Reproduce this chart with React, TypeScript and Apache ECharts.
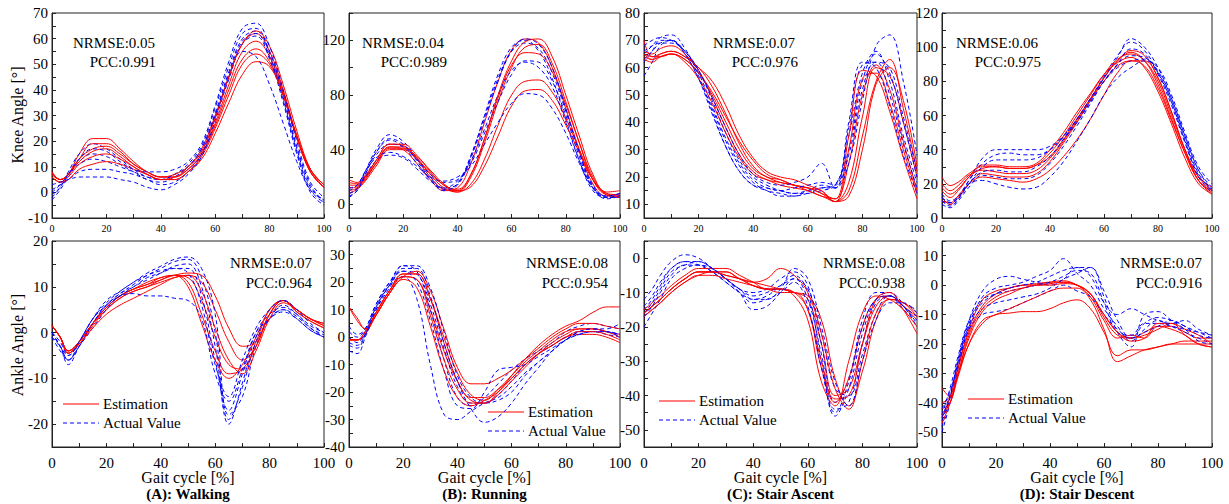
import React, { useEffect, useRef } from "react";
import * as echarts from "echarts";

// shared gait-cycle sample positions (%)
const X = [0, 3, 6, 10, 15, 20, 25, 30, 35, 40, 45, 50, 55, 60, 65, 70, 75, 80, 85, 90, 95, 100];
const X_TICKS = [0, 10, 20, 30, 40, 50, 60, 70, 80, 90, 100];
const X_LABELS = [0, 20, 40, 60, 80, 100];

// ---------- (A) Walking ----------
const A_KNEE_EST = [
  [8, 5, 7, 15, 21, 21, 17, 12, 8, 6, 6, 10, 17, 30, 45, 58, 62, 55, 40, 22, 8, 2],
  [7, 5, 7, 13, 19, 19, 16, 11, 8, 6, 6, 9, 15, 27, 42, 55, 59, 53, 39, 22, 8, 2],
  [7, 5, 7, 12, 16, 17, 14, 10, 7, 5, 6, 9, 15, 26, 40, 52, 56, 51, 38, 21, 8, 2],
  [6, 4, 6, 11, 14, 15, 13, 10, 7, 5, 5, 8, 14, 25, 38, 50, 54, 50, 38, 22, 9, 3],
  [6, 4, 5, 9, 11, 12, 11, 9, 7, 5, 5, 8, 13, 23, 35, 46, 51, 49, 38, 22, 9, 3],
  [8, 5, 7, 13, 17, 18, 15, 11, 8, 6, 7, 10, 16, 29, 45, 58, 63, 57, 42, 24, 9, 2],
];
const A_KNEE_ACT = [
  [-2, 2, 8, 15, 19, 17, 13, 9, 6, 5, 7, 11, 18, 33, 49, 62, 64, 54, 37, 17, 2, -3],
  [-3, 1, 6, 12, 15, 14, 11, 8, 5, 4, 6, 10, 17, 31, 47, 60, 63, 55, 38, 18, 3, -4],
  [0, 3, 7, 11, 13, 12, 10, 8, 6, 5, 7, 10, 16, 30, 46, 59, 62, 53, 36, 16, 1, -4],
  [1, 3, 5, 8, 9, 9, 8, 7, 5, 3, 4, 8, 15, 29, 45, 58, 61, 52, 35, 15, 0, -5],
  [3, 4, 5, 6, 6, 6, 5, 4, 2, 1, 3, 7, 14, 28, 44, 55, 53, 42, 27, 12, 1, -3],
  [-1, 2, 7, 13, 17, 16, 12, 9, 8, 8, 9, 12, 19, 34, 51, 64, 66, 57, 40, 20, 4, -2],
];
const A_ANKLE_EST = [
  [1.5, -1, -4, -2, 2, 5.5, 8, 9.5, 10.5, 11.5, 12.5, 12, 7, -1, -7, -8, -2, 5, 7, 4.5, 2.5, 1],
  [1.5, -1, -4.5, -2.5, 1.5, 5, 7.5, 9, 10, 11, 12, 12.5, 11, 5, -2, -6, -3, 4, 7, 4.5, 2.5, 1],
  [1.5, -1, -4, -2, 2, 5.5, 8, 9.5, 10.5, 12, 12.5, 11, 4, -4, -9, -8, -3, 4, 7, 5, 3, 1.5],
  [1.5, -1, -4.5, -2, 2, 5.5, 8, 9.5, 11, 12, 12.5, 10, 2, -6, -10, -7, -1, 5, 7, 5, 3, 2],
  [1.5, -1, -4, -2, 2, 5, 7.5, 9, 10, 11.5, 12.5, 13, 12.5, 8, 1, -3, -2, 4, 7, 5, 3, 2],
  [1.5, -1, -4.5, -2.5, 1, 4, 6, 7.5, 9, 10.5, 12, 12.5, 9, 1, -6, -9, -4, 3, 6.5, 5, 3, 1.5],
];
const A_ANKLE_ACT = [
  [0, -3, -7, -3, 2, 6, 8.5, 10.5, 12.5, 14, 15.5, 16, 12, 0, -19, -12, -2, 3, 6, 4, 1, -1],
  [-1, -4, -6, -2, 3, 6.5, 9, 11, 13, 14.5, 16, 16.5, 14, 4, -18, -14, -3, 3, 5, 3.5, 1, -0.5],
  [0, -3, -5, -2, 3, 6, 8.5, 10, 12, 13, 14, 14, 8, -6, -17, -9, 0, 4, 5.5, 4, 1.5, 0],
  [-1, -3, -6, -3, 2, 6, 8, 10, 11.5, 13, 14.5, 15, 10, -3, -20, -11, -1, 3, 4.5, 3, 0.5, -1],
  [0, -3, -6, -3, 1, 5, 8, 8.5, 8, 8, 7.5, 7, 3, -9, -15, -8, 0, 3, 5, 3, 0.5, -1],
  [0, -2, -5, -2, 3, 7, 9, 11, 12.5, 13.5, 14, 13, 6, -7, -14, -6, 1, 5, 7, 5, 2, 0],
];

// ---------- (B) Running ----------
const B_KNEE_EST = [
  [18, 16, 20, 30, 42, 40, 30, 18, 10, 12, 30, 60, 90, 113, 121, 118, 100, 70, 40, 15, 6, 8],
  [10, 12, 18, 30, 42, 42, 34, 22, 12, 9, 20, 45, 75, 100, 115, 117, 103, 75, 45, 18, 7, 6],
  [14, 14, 20, 32, 44, 43, 33, 20, 11, 10, 22, 48, 78, 102, 111, 110, 97, 73, 45, 20, 8, 7],
  [8, 11, 17, 28, 40, 40, 33, 23, 14, 9, 15, 33, 58, 80, 90, 91, 82, 63, 40, 18, 7, 5],
  [12, 13, 19, 30, 41, 41, 35, 25, 15, 10, 13, 28, 50, 72, 83, 84, 76, 58, 38, 18, 8, 6],
  [16, 15, 21, 32, 44, 44, 36, 24, 14, 11, 22, 48, 80, 105, 119, 121, 108, 80, 50, 22, 9, 10],
];
const B_KNEE_ACT = [
  [8, 12, 24, 40, 51, 46, 34, 20, 12, 15, 35, 65, 95, 115, 120, 112, 92, 62, 32, 10, 5, 7],
  [10, 14, 24, 38, 47, 42, 30, 18, 10, 15, 36, 64, 92, 112, 118, 114, 96, 68, 38, 14, 6, 8],
  [5, 10, 20, 32, 36, 34, 26, 17, 12, 17, 30, 52, 75, 95, 105, 104, 90, 65, 35, 12, 5, 5],
  [8, 11, 22, 36, 44, 42, 33, 22, 16, 18, 32, 55, 80, 98, 104, 100, 86, 60, 32, 12, 4, 6],
  [12, 14, 24, 34, 38, 35, 28, 20, 17, 20, 28, 44, 60, 74, 81, 80, 70, 52, 30, 12, 6, 8],
  [6, 10, 22, 38, 48, 44, 32, 19, 11, 14, 34, 62, 90, 112, 121, 117, 100, 70, 38, 13, 5, 6],
];
const B_ANKLE_EST = [
  [-1, -1, 1, 8, 16, 22, 21, 10, -5, -16, -22, -22, -19, -15, -10, -6, -3, 0, 1, 1, 0, -2],
  [-1, -1, 1, 9, 17, 23, 23, 14, 0, -13, -21, -23, -19, -14, -9, -5, -1, 2, 3, 3, 2, 1],
  [11, 7, 3, 8, 16, 22, 24, 17, 3, -11, -17, -17, -15, -12, -8, -4, 0, 3, 5, 5, 4, 3],
  [-1, -1, 2, 9, 17, 22, 21, 8, -8, -19, -24, -24, -21, -16, -11, -6, -2, 1, 3, 3, 2, 0],
  [11, 6, 3, 9, 17, 23, 23, 14, -2, -16, -23, -24, -20, -14, -8, -3, 1, 4, 6, 9, 11, 11],
  [-1, -1, 2, 8, 16, 21, 18, 4, -12, -22, -25, -23, -20, -15, -10, -6, -3, 0, 2, 2, 1, -1],
];
const B_ANKLE_ACT = [
  [4, 1, 3, 12, 20, 26, 24, 10, -8, -22, -25, -22, -17, -12, -8, -5, -2, 2, 4, 5, 4, 3],
  [-5, -6, 0, 10, 19, 24, 23, 12, -4, -18, -24, -24, -21, -16, -10, -6, -3, 0, 2, 2, 1, 0],
  [0, -2, 2, 11, 19, 22, 14, -10, -28, -30, -27, -24, -22, -18, -13, -9, -5, -1, 2, 3, 2, 1],
  [-3, -4, 1, 11, 19, 26, 26, 18, 2, -14, -22, -24, -23, -20, -14, -9, -5, -1, 1, 2, 2, 0],
  [2, 0, 3, 12, 20, 24, 20, 6, -12, -25, -26, -20, -12, -11, -10, -7, -4, -1, 1, 2, 2, 1],
  [-2, -3, 1, 10, 18, 25, 25, 15, -2, -16, -26, -31, -29, -24, -17, -11, -5, -1, 2, 3, 3, 5],
];

// ---------- (C) Stair Ascent ----------
const C_KNEE_EST = [
  [65, 63, 64, 65, 63, 58, 50, 40, 30, 23, 20, 18, 17, 16, 14, 12, 25, 50, 61, 52, 33, 15],
  [64, 63, 65, 66, 64, 60, 53, 43, 32, 24, 20, 19, 17, 16, 15, 11, 18, 42, 60, 57, 40, 20],
  [66, 65, 67, 68, 65, 59, 49, 38, 28, 22, 19, 18, 17, 15, 13, 11, 30, 56, 58, 47, 30, 14],
  [63, 62, 64, 65, 63, 58, 51, 42, 33, 26, 21, 19, 17, 16, 14, 11, 15, 35, 55, 63, 45, 22],
  [70, 64, 64, 65, 62, 56, 47, 36, 27, 21, 19, 17, 16, 15, 13, 12, 35, 59, 57, 44, 27, 12],
  [65, 64, 65, 66, 64, 60, 55, 46, 35, 27, 22, 20, 19, 17, 15, 11, 13, 30, 54, 60, 48, 24],
];
const C_KNEE_ACT = [
  [68, 70, 71, 70, 66, 58, 46, 34, 25, 19, 16, 15, 14, 15, 16, 17, 35, 58, 66, 55, 35, 18],
  [62, 66, 70, 70, 65, 56, 45, 33, 24, 18, 15, 14, 13, 14, 15, 17, 30, 55, 65, 58, 40, 20],
  [57, 62, 68, 70, 66, 59, 48, 36, 26, 20, 17, 15, 14, 14, 16, 16, 25, 48, 68, 72, 55, 28],
  [65, 68, 71, 72, 67, 57, 44, 31, 22, 17, 15, 13, 13, 15, 17, 16, 38, 61, 62, 50, 32, 16],
  [66, 68, 69, 69, 66, 59, 49, 38, 28, 21, 18, 17, 18, 20, 25, 16, 28, 52, 62, 60, 42, 22],
  [63, 66, 69, 70, 65, 56, 43, 31, 22, 17, 16, 15, 16, 17, 18, 17, 40, 62, 60, 46, 28, 14],
];
const C_ANKLE_EST = [
  [-16, -14, -12, -9, -6, -4, -4, -5, -6, -7, -8, -9, -10, -12, -25, -40, -38, -25, -14, -11, -14, -18],
  [-17, -15, -13, -10, -7, -5, -4, -4, -6, -8, -9, -9, -10, -15, -32, -42, -35, -20, -12, -11, -14, -17],
  [-15, -13, -11, -8, -5, -3, -3, -3, -5, -7, -9, -9, -10, -11, -18, -35, -43, -33, -18, -12, -13, -16],
  [-16, -14, -12, -9, -6, -4, -4, -4, -6, -7, -6, -3, -5, -10, -22, -38, -44, -30, -16, -12, -13, -17],
  [-17, -15, -13, -10, -7, -5, -5, -6, -7, -8, -9, -10, -10, -15, -30, -41, -40, -25, -12, -10, -15, -22],
  [-16, -14, -12, -9, -6, -4, -4, -5, -6, -8, -9, -9, -11, -18, -36, -43, -30, -16, -11, -12, -15, -20],
];
const C_ANKLE_ACT = [
  [-12, -9, -5, -1, 1, 0, -3, -6, -9, -10, -9, -6, -4, -8, -25, -42, -35, -18, -10, -10, -13, -15],
  [-15, -12, -8, -3, -1, -2, -4, -7, -10, -12, -11, -8, -5, -10, -30, -46, -38, -22, -12, -10, -14, -17],
  [-20, -16, -12, -6, -3, -2, -3, -6, -10, -15, -14, -10, -6, -9, -22, -38, -40, -28, -16, -11, -14, -20],
  [-14, -11, -7, -3, -1, -1, -3, -6, -9, -11, -10, -8, -6, -12, -28, -44, -42, -25, -13, -11, -15, -18],
  [-16, -13, -9, -4, -2, -1, -3, -6, -9, -12, -12, -9, -3, -6, -20, -36, -43, -30, -18, -13, -13, -16],
  [-17, -14, -10, -5, -2, -2, -4, -7, -10, -13, -12, -10, -7, -14, -32, -45, -36, -20, -12, -11, -14, -19],
];

// ---------- (D) Stair Descent ----------
const D_KNEE_EST = [
  [24, 19, 21, 26, 30, 30, 29, 29, 31, 36, 46, 58, 70, 82, 92, 97, 92, 78, 58, 38, 22, 15],
  [12, 8, 12, 20, 26, 25, 24, 24, 26, 33, 44, 56, 69, 82, 92, 98, 95, 82, 62, 40, 24, 16],
  [18, 14, 17, 24, 29, 30, 29, 29, 31, 38, 48, 60, 72, 84, 93, 96, 92, 80, 60, 40, 24, 18],
  [10, 9, 13, 20, 24, 23, 22, 21, 23, 28, 36, 46, 58, 72, 85, 92, 92, 82, 62, 40, 22, 14],
  [16, 12, 16, 24, 31, 31, 30, 30, 32, 40, 50, 62, 73, 84, 91, 94, 88, 74, 55, 35, 20, 14],
  [20, 16, 19, 25, 28, 27, 26, 26, 28, 35, 45, 57, 69, 80, 89, 92, 89, 76, 57, 38, 22, 16],
];
const D_KNEE_ACT = [
  [10, 8, 12, 22, 35, 40, 40, 40, 40, 42, 48, 58, 70, 83, 95, 103, 98, 85, 68, 45, 25, 17],
  [14, 10, 13, 22, 32, 37, 38, 37, 37, 40, 47, 57, 69, 82, 94, 105, 100, 88, 70, 48, 28, 18],
  [8, 6, 10, 18, 25, 24, 23, 23, 25, 32, 42, 54, 67, 80, 90, 95, 94, 86, 70, 48, 28, 16],
  [12, 9, 12, 20, 22, 20, 18, 17, 18, 24, 33, 45, 58, 72, 82, 88, 92, 88, 72, 50, 30, 20],
  [10, 7, 11, 20, 30, 34, 34, 34, 35, 40, 48, 58, 70, 80, 88, 92, 93, 85, 68, 46, 26, 16],
  [12, 9, 12, 20, 27, 28, 27, 27, 30, 36, 46, 56, 68, 80, 90, 99, 96, 84, 66, 44, 24, 15],
];
const D_ANKLE_EST = [
  [-35, -38, -28, -16, -7, -3, -1, 0, 0.5, 1, 1, 0, -3, -10, -16, -18, -16, -14, -14, -16, -18, -18],
  [-42, -40, -30, -18, -9, -5, -3, -1, 0, 1, 1.5, 0, -3, -11, -17, -18, -17, -15, -13, -15, -17, -20],
  [-45, -38, -28, -15, -5, -2, -1, 0, 0, 0.5, 1, 0, -4, -12, -18, -17, -18, -14, -15, -17, -20, -21],
  [-40, -38, -30, -20, -13, -10, -9.5, -9, -9, -8, -6, -5, -8, -16, -24, -22, -22, -21, -20, -19, -19, -19],
  [-44, -40, -31, -20, -12, -10, -8, -6, -4, -2, -1, -1, -5, -15, -26, -24, -22, -21, -20, -20, -20, -20],
  [-47, -40, -30, -17, -8, -4, -2, -1, 0, 0, 0.5, 0, -3, -10, -16, -19, -18, -13, -13, -17, -20, -21],
];
const D_ANKLE_ACT = [
  [-48, -38, -25, -12, -2, 2, 3, 2, 1, 0, 2, 6, 6, -2, -12, -18, -13, -11, -12, -14, -17, -18],
  [-50, -40, -28, -14, -4, -1, 0, 1, 3, 5, 9, 4, 0, -8, -14, -19, -15, -12, -14, -16, -18, -20],
  [-44, -35, -24, -12, -5, -3, -2, -1, 0, 1, 3, 5, 4, -6, -16, -17, -13, -13, -14, -15, -16, -17],
  [-42, -36, -27, -15, -10, -9, -8, -6, -4, -2, 0, -2, -4, -10, -15, -18, -16, -14, -12, -14, -16, -18],
  [-46, -38, -26, -14, -8, -6, -5, -4, -3, -1, 2, 4, 6, -4, -16, -21, -10, -9, -12, -15, -19, -20],
  [-45, -37, -26, -13, -6, -3, -1, 0, 1, 3, 5, 6, 3, -6, -10, -8, -10, -12, -13, -12, -15, -17],
];

// metrics text
const NRMSE = ["0.05", "0.04", "0.07", "0.06", "0.07", "0.08", "0.08", "0.07"];
const PCC = ["0.991", "0.989", "0.976", "0.975", "0.964", "0.954", "0.938", "0.916"];
const TITLES = ["(A): Walking", "(B): Running", "(C): Stair Ascent", "(D): Stair Descent"];

// y-axis ranges, tick values and label values per panel (top row then bottom row)
const Y_RANGE = [
  [-10, 70], [-10, 140], [5, 80], [0, 120],
  [-25, 20], [-40, 35], [-55, 5], [-55, 15],
];
const Y_LABELS = [
  [-10, 0, 10, 20, 30, 40, 50, 60, 70],
  [0, 40, 80, 120],
  [10, 20, 30, 40, 50, 60, 70, 80],
  [0, 20, 40, 60, 80, 100, 120],
  [-20, -10, 0, 10, 20],
  [-40, -30, -20, -10, 0, 10, 20, 30],
  [-50, -40, -30, -20, -10, 0],
  [-50, -40, -30, -20, -10, 0, 10],
];
const Y_TICKS = [
  [-10, -5, 0, 5, 10, 15, 20, 25, 30, 35, 40, 45, 50, 55, 60, 65, 70],
  [0, 20, 40, 60, 80, 100, 120, 140],
  [10, 15, 20, 25, 30, 35, 40, 45, 50, 55, 60, 65, 70, 75, 80],
  [0, 10, 20, 30, 40, 50, 60, 70, 80, 90, 100, 110, 120],
  [-20, -15, -10, -5, 0, 5, 10, 15, 20],
  [-40, -35, -30, -25, -20, -15, -10, -5, 0, 5, 10, 15, 20, 25, 30, 35],
  [-50, -45, -40, -35, -30, -25, -20, -15, -10, -5, 0, 5],
  [-50, -45, -40, -35, -30, -25, -20, -15, -10, -5, 0, 5, 10, 15],
];

const EST = [A_KNEE_EST, B_KNEE_EST, C_KNEE_EST, D_KNEE_EST, A_ANKLE_EST, B_ANKLE_EST, C_ANKLE_EST, D_ANKLE_EST];
const ACT = [A_KNEE_ACT, B_KNEE_ACT, C_KNEE_ACT, D_KNEE_ACT, A_ANKLE_ACT, B_ANKLE_ACT, C_ANKLE_ACT, D_ANKLE_ACT];

// layout (pixels)
const COL_LEFT = [52, 349, 644, 942];
const COL_W = [272, 271, 273, 270];
const ROW_TOP = [13, 241];
const ROW_H = [205, 206];
const TOP_METRIC_X = [[73, 156], [362, 447], [713, 798], [956, 1041]];
const BOT_METRIC_RIGHT = [312, 608, 905, 1202];
const LEGEND_POS = [[63, 404], [488, 412], [659, 401], [968, 399]];

const FONT = "Liberation Serif";
const RED = "#ff0000";
const BLUE = "#0000ff";

export default function App() {
  const ref = useRef<HTMLDivElement>(null);
  useEffect(() => {
    if (!ref.current) return;
    const chart = echarts.init(ref.current, null, { renderer: "svg" });
    const grids: any[] = [];
    const xAxes: any[] = [];
    const yAxes: any[] = [];
    const series: any[] = [];
    const graphics: any[] = [];

    for (let p = 0; p < 8; p++) {
      const row = p < 4 ? 0 : 1;
      const col = p % 4;
      grids.push({
        left: COL_LEFT[col], top: ROW_TOP[row], width: COL_W[col], height: ROW_H[row],
        show: true, borderColor: "#222", borderWidth: 1, backgroundColor: "transparent",
      });
      xAxes.push({
        gridIndex: p, type: "value", min: 0, max: 100,
        axisLine: { show: true, onZero: false, lineStyle: { color: "#222", width: 1 } },
        axisTick: { show: true, inside: true, length: 4, customValues: X_TICKS, lineStyle: { color: "#222" } },
        axisLabel: {
          customValues: X_LABELS, color: "#000", fontFamily: FONT,
          fontSize: row === 0 ? 10 : 15, margin: row === 0 ? 5 : 8,
        },
        splitLine: { show: false },
      });
      const [yMin, yMax] = Y_RANGE[p];
      yAxes.push({
        gridIndex: p, type: "value", min: yMin, max: yMax,
        axisLine: { show: true, onZero: false, lineStyle: { color: "#222", width: 1 } },
        axisTick: { show: true, inside: true, length: 4, customValues: Y_TICKS[p], lineStyle: { color: "#222" } },
        axisLabel: { customValues: Y_LABELS[p], color: "#000", fontFamily: FONT, fontSize: 15, margin: 4 },
        splitLine: { show: false },
      });
      const est = EST[p];
      const act = ACT[p];
      for (let k = 0; k < Math.max(est.length, act.length); k++) {
        if (est[k]) {
          series.push({
            type: "line", xAxisIndex: p, yAxisIndex: p, showSymbol: false, smooth: 0.4,
            data: X.map((x, i) => [x, est[k][i]]),
            lineStyle: { color: RED, width: 1 }, silent: true,
          });
        }
        if (act[k]) {
          series.push({
            type: "line", xAxisIndex: p, yAxisIndex: p, showSymbol: false, smooth: 0.4,
            data: X.map((x, i) => [x, act[k][i]]),
            lineStyle: { color: BLUE, width: 1, type: [4, 3] }, silent: true,
          });
        }
      }
      const txt = (extra: any) => ({ fontFamily: FONT, fontSize: 15, fill: "#000", ...extra });
      if (row === 0) {
        graphics.push({ type: "text", x: TOP_METRIC_X[col][0], y: 43,
          style: txt({ text: "NRMSE:" + NRMSE[p], textAlign: "left", textVerticalAlign: "middle" }) });
        graphics.push({ type: "text", x: TOP_METRIC_X[col][1], y: 62,
          style: txt({ text: "PCC:" + PCC[p], textAlign: "right", textVerticalAlign: "middle" }) });
      } else {
        graphics.push({ type: "text", x: BOT_METRIC_RIGHT[col], y: 263,
          style: txt({ text: "NRMSE:" + NRMSE[p], textAlign: "right", textVerticalAlign: "middle" }) });
        graphics.push({ type: "text", x: BOT_METRIC_RIGHT[col], y: 283,
          style: txt({ text: "PCC:" + PCC[p], textAlign: "right", textVerticalAlign: "middle" }) });
        const [lx, ly] = LEGEND_POS[col];
        graphics.push({ type: "line", shape: { x1: lx, y1: ly, x2: lx + 36, y2: ly }, style: { stroke: RED, lineWidth: 1.2 } });
        graphics.push({ type: "text", x: lx + 40, y: ly, style: txt({ text: "Estimation", textVerticalAlign: "middle" }) });
        graphics.push({ type: "line", shape: { x1: lx, y1: ly + 19, x2: lx + 36, y2: ly + 19 }, style: { stroke: BLUE, lineWidth: 1.2, lineDash: [4, 3] } });
        graphics.push({ type: "text", x: lx + 40, y: ly + 19, style: txt({ text: "Actual Value", textVerticalAlign: "middle" }) });
        const cx = COL_LEFT[col] + COL_W[col] / 2;
        graphics.push({ type: "text", x: cx, y: 477, style: txt({ text: "Gait cycle [%]", fontSize: 16, textAlign: "center", textVerticalAlign: "middle" }) });
        graphics.push({ type: "text", x: cx, y: 494, style: txt({ text: TITLES[col], fontSize: 15, fontWeight: "bold", textAlign: "center", textVerticalAlign: "middle" }) });
      }
    }
    graphics.push({ type: "text", x: 17, y: 115, rotation: Math.PI / 2,
      style: { text: "Knee Angle [°]", fontFamily: FONT, fontSize: 16, fill: "#000", textAlign: "center", textVerticalAlign: "middle" } });
    graphics.push({ type: "text", x: 17, y: 345, rotation: Math.PI / 2,
      style: { text: "Ankle Angle [°]", fontFamily: FONT, fontSize: 16, fill: "#000", textAlign: "center", textVerticalAlign: "middle" } });

    chart.setOption({
      animation: false,
      backgroundColor: "#fff",
      grid: grids,
      xAxis: xAxes,
      yAxis: yAxes,
      series,
      graphic: graphics,
    });
    return () => chart.dispose();
  }, []);
  return <div ref={ref} style={{ position: "fixed", left: 0, top: 0, width: 1229, height: 504 }} />;
}
